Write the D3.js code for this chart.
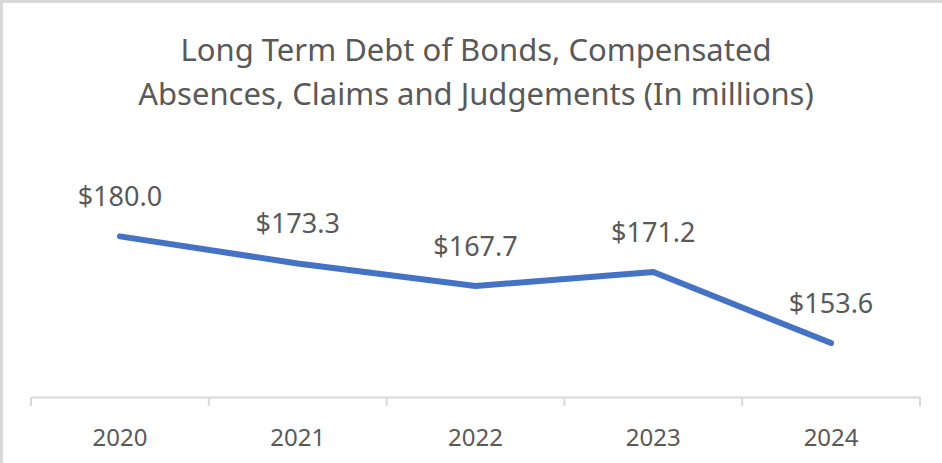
<!DOCTYPE html>
<html>
<head>
<meta charset="utf-8">
<script src="https://cdn.jsdelivr.net/npm/d3@7"></script>
<style>
  body { margin: 0; background: #fff; }
  text { font-family: "Noto Sans", "Open Sans", sans-serif; fill: #595959; }
</style>
</head>
<body>
<script>
//Width and height
var w = 942;
var h = 463;

//Chart data
var years = ["2020", "2021", "2022", "2023", "2024"];
var debt = [180.0, 173.3, 167.7, 171.2, 153.6];
var titleLines = ["Long Term Debt of Bonds, Compensated", "Absences, Claims and Judgements (In millions)"];

//Create SVG element
var svg = d3.select("body")
            .append("svg")
            .attr("width", w)
            .attr("height", h);

svg.append("rect")
   .attr("width", w)
   .attr("height", h)
   .attr("fill", "#fff");

//Chart frame (only top and left edges fall inside the picture)
svg.append("rect")
   .attr("x", 1.5)
   .attr("y", 1.5)
   .attr("width", w + 10)
   .attr("height", h + 10)
   .attr("fill", "none")
   .attr("stroke", "#d9d9d9")
   .attr("stroke-width", 3);

//Scales
var x = d3.scaleBand()
          .domain(years)
          .range([31, 920]);

var y = d3.scaleLinear()
          .domain([140, 190])
          .range([398, 196]);

//Title
svg.append("text")
   .attr("x", 476)
   .attr("y", 61)
   .attr("text-anchor", "middle")
   .style("font-size", "31px")
   .selectAll("tspan")
   .data(titleLines)
   .enter()
   .append("tspan")
   .attr("x", 476)
   .attr("dy", function(d, i) { return i === 0 ? 0 : 44; })
   .text(function(d) { return d; });

//X axis
var xAxis = d3.axisBottom(x)
              .tickSizeInner(0)
              .tickSizeOuter(0)
              .tickPadding(32);

var gx = svg.append("g")
            .attr("transform", "translate(0,397)")
            .call(xAxis);

gx.select(".domain")
  .attr("stroke", "#d9d9d9")
  .attr("stroke-width", 2);

gx.selectAll(".tick text")
  .attr("fill", "#595959")
  .style("font-size", "24px");

//Tick marks at band edges
var edges = years.map(function(d) { return x(d); }).concat([x.range()[1]]);
gx.selectAll(".edge")
  .data(edges)
  .enter()
  .append("line")
  .attr("class", "edge")
  .attr("x1", function(d) { return d; })
  .attr("x2", function(d) { return d; })
  .attr("y1", 0)
  .attr("y2", 9)
  .attr("stroke", "#d9d9d9")
  .attr("stroke-width", 2);

//Line
var line = d3.line()
             .x(function(d, i) { return x(years[i]) + x.bandwidth() / 2; })
             .y(function(d) { return y(d); });

svg.append("path")
   .datum(debt)
   .attr("d", line)
   .attr("fill", "none")
   .attr("stroke", "#4472c4")
   .attr("stroke-width", 6)
   .attr("stroke-linecap", "round")
   .attr("stroke-linejoin", "round");

//Data labels
svg.selectAll(".label")
   .data(debt)
   .enter()
   .append("text")
   .attr("class", "label")
   .attr("x", function(d, i) { return x(years[i]) + x.bandwidth() / 2; })
   .attr("y", function(d) { return y(d) - 30; })
   .attr("text-anchor", "middle")
   .style("font-size", "27px")
   .text(function(d) { return "$" + d3.format(".1f")(d); });
</script>
</body>
</html>
